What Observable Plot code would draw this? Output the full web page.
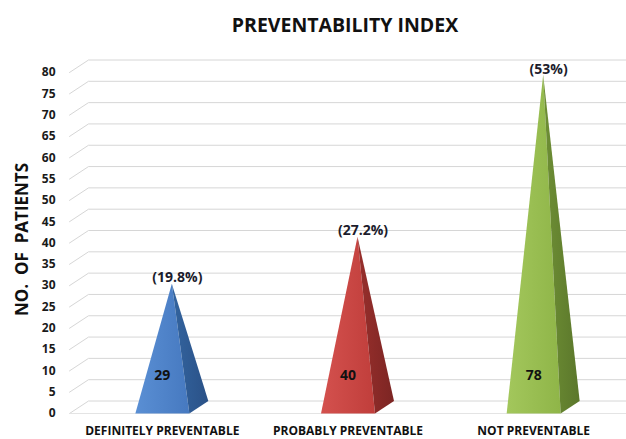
<!DOCTYPE html>
<html>
<head>
<meta charset="utf-8">
<script src="https://cdn.jsdelivr.net/npm/d3@7"></script>
<script src="https://cdn.jsdelivr.net/npm/@observablehq/plot@0.6"></script>
<style>
  body { margin: 0; background: #fff; font-family: "Open Sans", sans-serif; }
  #wrap { width: 626px; height: 439px; overflow: hidden; }
  #title { position: relative; height: 40px; }
  #title span { position: absolute; left: 345px; top: 12px; transform: translateX(-50%);
    font-weight: bold; font-size: 19.5px; line-height: 26px; white-space: nowrap; color: #111; }
  svg { display: block; }
</style>
</head>
<body>
<div id="wrap">
  <div id="title"><span>PREVENTABILITY INDEX</span></div>
  <div id="chart"></div>
</div>
<script>
// ---- data ----
const categories = ["DEFINITELY PREVENTABLE", "PROBABLY PREVENTABLE", "NOT PREVENTABLE"];
const patients = [29, 40, 78];
const percentLabels = ["(19.8%)", "(27.2%)", "(53%)"];
const yTicks = [0, 5, 10, 15, 20, 25, 30, 35, 40, 45, 50, 55, 60, 65, 70, 75, 80];
const yTitle = "NO.\u00a0 OF\u00a0 PATIENTS";

// ---- styles ----
const frontColors = [["#5a8fd4", "#4679c0"], ["#d4514e", "#c03e3b"], ["#a3c75c", "#8fb548"]];
const sideColors = [["#33649f", "#2a5187"], ["#982f2c", "#7c2523"], ["#6e8f35", "#5b772b"]];

// ---- layout ----
const W = 626, H = 399, ML = 69, MR = 0, MT = 32, MB = 26;
const pxX = 3 / (W - ML - MR), pxY = 80 / (H - MT - MB);
const depthX = 19 * pxX, depthY = 12.5 * pxY, halfBase = 27 * pxX;
const xMin = -0.5, xMax = 2.5;
const font = "'Open Sans', sans-serif";

const rows = categories.map((c, i) => ({i, category: c, value: patients[i], pct: percentLabels[i]}));

// perspective grid: front edge -> back wall
const grid = yTicks.flatMap(t => [
  {t, x: xMin, y: t},
  {t, x: xMin + depthX, y: t + depthY},
  {t, x: xMax, y: t + depthY}
]);
const floorFront = [{x: xMin, y: 0}, {x: xMax, y: 0}];

// pyramid faces from values
const faces = rows.flatMap(r => {
  const c = r.i;
  const FL = [c - halfBase, 0], FR = [c + halfBase, 0], BR = [c + halfBase + depthX, depthY];
  const AP = [c + depthX / 2, r.value + depthY / 2];
  return [
    ...[FL, AP, FR].map(p => ({id: r.i + "f", fill: `url(#front${r.i})`, x: p[0], y: p[1]})),
    ...[FR, AP, BR].map(p => ({id: r.i + "s", fill: `url(#side${r.i})`, x: p[0], y: p[1]}))
  ];
});
const shadows = rows.flatMap(r => {
  const c = r.i;
  return [
    [c - halfBase - 6 * pxX, -1 * pxY],
    [c + halfBase + 14 * pxX, -1 * pxY],
    [c + halfBase + depthX + 20 * pxX, depthY - 2 * pxY],
    [c - halfBase + depthX, depthY - 2 * pxY]
  ].map(p => ({id: r.i, x: p[0], y: p[1]}));
});

const plot = Plot.plot({
  width: W, height: H,
  marginLeft: ML, marginRight: MR, marginTop: MT, marginBottom: MB,
  x: {domain: [xMin, xMax], axis: null},
  y: {domain: [0, 80], axis: null},
  color: {type: "identity"},
  style: {fontFamily: font, fontWeight: "bold", fontSize: "12px", color: "#222", background: "#fff", overflow: "visible"},
  marks: [
    Plot.line(grid, {x: "x", y: "y", z: "t", stroke: "#d6d6d6", strokeWidth: 1}),
    Plot.line(floorFront, {x: "x", y: "y", stroke: "#e4e4e4", strokeWidth: 1}),
    Plot.axisY({ticks: yTicks, tickSize: 0, tickPadding: 14, fontSize: 12, fontWeight: "bold", fill: "#1a1a1a", label: null}),
    Plot.line(shadows, {x: "x", y: "y", z: "id", fill: "#1e1e1e", fillOpacity: 0.9, stroke: "none", curve: "linear-closed", ariaLabel: "shadow"}),
    Plot.line(faces, {x: "x", y: "y", z: "id", fill: "fill", stroke: "none", curve: "linear-closed"}),
    Plot.text(rows, {x: "i", y: "value", text: "pct", dx: 15, dy: -12, fontSize: 14, fontWeight: "bold", fill: "#1c1c2c"}),
    Plot.text(rows, {x: "i", y: () => 0, text: "value", dy: -38, fontSize: 14, fontWeight: "bold", fill: "#111"}),
    Plot.text(rows, {x: "i", y: () => 0, text: "category", dy: 18, fontSize: 12, fontWeight: "bold", fill: "#111"}),
    Plot.text([yTitle], {frameAnchor: "left", textAnchor: "middle", text: d => d, rotate: -90, dx: -47, dy: -3.5, fontSize: 17, fontWeight: "bold", fill: "#111"})
  ]
});

// gradients + soft shadow
const svg = d3.select(plot);
const defs = svg.insert("defs", ":first-child");
const addGrad = (id, c0, c1) => {
  const g = defs.append("linearGradient").attr("id", id).attr("x1", "0").attr("y1", "0").attr("x2", "1").attr("y2", "0");
  g.append("stop").attr("offset", "0%").attr("stop-color", c0);
  g.append("stop").attr("offset", "100%").attr("stop-color", c1);
};
rows.forEach(r => {
  addGrad("front" + r.i, frontColors[r.i][0], frontColors[r.i][1]);
  addGrad("side" + r.i, sideColors[r.i][0], sideColors[r.i][1]);
});
svg.selectAll('g[aria-label="shadow"]').style("filter", "blur(2px)");

document.getElementById("chart").appendChild(plot);
</script>
</body>
</html>
